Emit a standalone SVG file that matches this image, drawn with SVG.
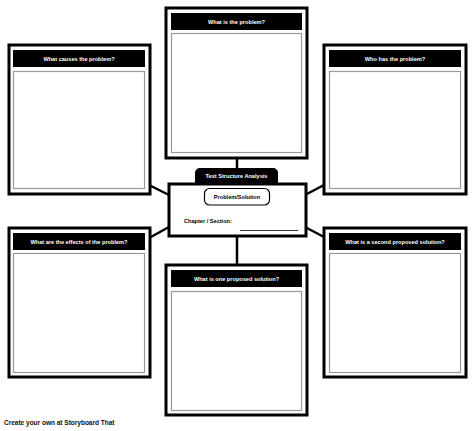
<svg xmlns="http://www.w3.org/2000/svg" width="474" height="431" viewBox="0 0 474 431">
<style>
.outer{fill:#fff;stroke:#000;stroke-width:3}
.hdr{fill:#000}
.panel{fill:#fff;stroke:#999;stroke-width:1.2}
.ht{font-family:"Liberation Sans",Arial,sans-serif;font-weight:bold;font-size:5.6px;fill:#fff;text-anchor:middle}
.bt{font-family:"Liberation Sans",Arial,sans-serif;font-weight:bold;font-size:5.6px;fill:#000}
.con{stroke:#000;stroke-width:2.5;fill:none}
</style>
<rect width="474" height="431" fill="#fff"/>
<g id="connectors">
<line class="con" x1="237" y1="158" x2="237" y2="170"/>
<line class="con" x1="237" y1="236" x2="237" y2="265"/>
<line class="con" x1="149" y1="185" x2="169" y2="195"/>
<line class="con" x1="149" y1="238" x2="169" y2="227"/>
<line class="con" x1="305" y1="195" x2="324" y2="185"/>
<line class="con" x1="305" y1="227" x2="324" y2="237"/>
</g>
<g id="top">
<rect class="outer" x="166" y="8" width="141" height="150"/>
<rect class="hdr" x="171" y="13" width="131" height="17"/>
<rect class="panel" x="171.5" y="33.5" width="130" height="119"/>
<text class="ht" x="236.5" y="23.5">What is the problem?</text>
</g>
<g id="top-left">
<rect class="outer" x="9" y="45" width="141" height="149"/>
<rect class="hdr" x="13" y="50" width="132" height="17"/>
<rect class="panel" x="13.5" y="71.5" width="131" height="117"/>
<text class="ht" x="79" y="60.5">What causes the problem?</text>
</g>
<g id="top-right">
<rect class="outer" x="324" y="45" width="142" height="149"/>
<rect class="hdr" x="329" y="50" width="132" height="17"/>
<rect class="panel" x="329.5" y="71.5" width="131" height="117"/>
<text class="ht" x="395" y="60.5">Who has the problem?</text>
</g>
<g id="center">
<rect x="195" y="168" width="83" height="22" rx="6" fill="#000"/>
<rect class="outer" x="169" y="184" width="137" height="52"/>
<rect x="195" y="168" width="83" height="14.5" rx="5" fill="#000"/>
<text class="ht" x="236.5" y="178">Text Structure Analysis</text>
<rect x="204.5" y="188.5" width="65" height="16.5" rx="5" fill="#fff" stroke="#000" stroke-width="1.2"/>
<text class="bt" x="237" y="198.5" text-anchor="middle">Problem/Solution</text>
<text class="bt" x="184" y="222.5">Chapter / Section:</text>
<line x1="240" y1="230.5" x2="298" y2="230.5" stroke="#000" stroke-width="0.8"/>
</g>
<g id="bottom-left">
<rect class="outer" x="9" y="228" width="141" height="149"/>
<rect class="hdr" x="13" y="233" width="132" height="17"/>
<rect class="panel" x="13.5" y="253.5" width="131" height="119"/>
<text class="ht" x="79" y="243.5">What are the effects of the problem?</text>
</g>
<g id="bottom-center">
<rect class="outer" x="166" y="265" width="141" height="150"/>
<rect class="hdr" x="171" y="270" width="131" height="17"/>
<rect class="panel" x="171.5" y="291.5" width="130" height="119"/>
<text class="ht" x="236.5" y="280.5">What is one proposed solution?</text>
</g>
<g id="bottom-right">
<rect class="outer" x="324" y="228" width="142" height="149"/>
<rect class="hdr" x="329" y="233" width="132" height="17"/>
<rect class="panel" x="329.5" y="253.5" width="131" height="119"/>
<text class="ht" x="395" y="243.5">What is a second proposed solution?</text>
</g>
<text x="4" y="425" font-family="'Liberation Sans',Arial,sans-serif" font-size="6.5" font-weight="bold" fill="#111">Create your own at Storyboard That</text>
</svg>
